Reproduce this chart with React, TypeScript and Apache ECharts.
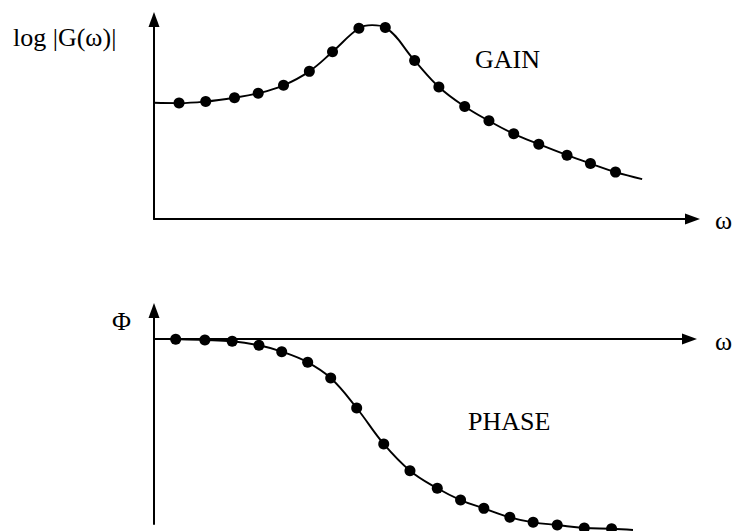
import { useEffect, useRef } from "react";
import * as echarts from "echarts";

// Gain panel (arbitrary units: ω 0–20, log|G| 0–10)
const gainOmega = [0.93, 1.92, 2.99, 3.87, 4.81, 5.77, 6.63, 7.61, 8.59, 9.68, 10.58, 11.54, 12.44, 13.36, 14.29, 15.34, 16.21, 17.14];
const gainValues = [5.81, 5.89, 6.08, 6.3, 6.7, 7.4, 8.38, 9.56, 9.6, 7.94, 6.62, 5.64, 4.92, 4.27, 3.75, 3.2, 2.78, 2.35];
// curve-only points without a marker: start, peak, end
const gainCurveOmega = [0, 8.1, 18.13];
const gainCurveValues = [5.83, 9.72, 2.0];

// Phase panel (ω 0–20, Φ in degrees-like units)
const phaseOmega = [0.81, 1.9, 2.92, 3.92, 4.77, 5.74, 6.6, 7.57, 8.58, 9.56, 10.58, 11.45, 12.32, 13.29, 14.16, 15.06, 16.07, 17.09];
const phaseValues = [-0.3, -1.1, -2.5, -6.8, -13.7, -25.2, -42.2, -74.6, -113.5, -142.4, -161.4, -174.1, -183.1, -192.8, -198.2, -201.1, -204.3, -205.1];
const phaseCurveOmega = [0, 17.89];
const phaseCurveValues = [0, -206.5];

const labels = {
  gainAxis: "log |G(ω)|",
  gain: "GAIN",
  phaseAxis: "Φ",
  phase: "PHASE",
  omega: "ω",
};

const FONT = "'Liberation Serif', 'Times New Roman', serif";

function pairs(xs: number[], ys: number[]) {
  return xs.map((x, i) => [x, ys[i]]);
}

function curve(xs: number[], ys: number[], ex: number[], ey: number[]) {
  return [...pairs(xs, ys), ...pairs(ex, ey)].sort((a, b) => a[0] - b[0]);
}

export default function App() {
  const ref = useRef<HTMLDivElement>(null);

  useEffect(() => {
    document.body.style.margin = "0";
    if (!ref.current) return;
    const chart = echarts.init(ref.current, undefined, { renderer: "svg" });

    const axisLine = (arrow: boolean) => ({
      show: true,
      onZero: true,
      symbol: arrow ? ["none", "triangle"] : ["none", "none"],
      symbolSize: [11, 15],
      lineStyle: { color: "#000", width: 2 },
    });
    const hidden = {
      axisTick: { show: false },
      axisLabel: { show: false },
      splitLine: { show: false },
    };

    const textStyle = { fill: "#000", fontFamily: FONT, fontSize: 26 };

    chart.setOption({
      animation: false,
      backgroundColor: "#fff",
      grid: [
        { left: 154, right: 41.5, top: 19.5, bottom: 312 },
        { left: 154, right: 44.5, top: 310.5, bottom: 7 },
      ],
      xAxis: [
        { type: "value", gridIndex: 0, min: 0, max: 20, axisLine: axisLine(true), ...hidden },
        { type: "value", gridIndex: 1, min: 0, max: 20, axisLine: axisLine(true), ...hidden },
      ],
      yAxis: [
        { type: "value", gridIndex: 0, min: 0, max: 10, axisLine: axisLine(true), ...hidden },
        { type: "value", gridIndex: 1, min: -200, max: 30.8, axisLine: axisLine(true), ...hidden },
      ],
      series: [
        {
          type: "line",
          xAxisIndex: 0,
          yAxisIndex: 0,
          data: curve(gainOmega, gainValues, gainCurveOmega, gainCurveValues),
          smooth: 0.4,
          showSymbol: false,
          clip: false,
          silent: true,
          lineStyle: { color: "#000", width: 1.9 },
        },
        {
          type: "scatter",
          xAxisIndex: 0,
          yAxisIndex: 0,
          data: pairs(gainOmega, gainValues),
          symbolSize: 11,
          clip: false,
          silent: true,
          itemStyle: { color: "#000", opacity: 1 },
        },
        {
          type: "line",
          xAxisIndex: 1,
          yAxisIndex: 1,
          data: curve(phaseOmega, phaseValues, phaseCurveOmega, phaseCurveValues),
          smooth: 0.4,
          showSymbol: false,
          clip: false,
          silent: true,
          lineStyle: { color: "#000", width: 1.9 },
        },
        {
          type: "scatter",
          xAxisIndex: 1,
          yAxisIndex: 1,
          data: pairs(phaseOmega, phaseValues),
          symbolSize: 11,
          clip: false,
          silent: true,
          itemStyle: { color: "#000", opacity: 1 },
        },
      ],
      graphic: [
        { type: "text", left: 13, top: 24, style: { ...textStyle, text: labels.gainAxis } },
        { type: "text", x: 475, y: 59, style: { ...textStyle, text: labels.gain, verticalAlign: "middle" } },
        { type: "text", x: 715, y: 220, style: { ...textStyle, text: labels.omega, verticalAlign: "middle" } },
        { type: "text", x: 112, y: 321, style: { ...textStyle, text: labels.phaseAxis, verticalAlign: "middle" } },
        { type: "text", x: 715, y: 341, style: { ...textStyle, text: labels.omega, verticalAlign: "middle" } },
        { type: "text", x: 468, y: 421, style: { ...textStyle, text: labels.phase, verticalAlign: "middle" } },
      ],
    });

    return () => chart.dispose();
  }, []);

  return <div ref={ref} style={{ width: 734, height: 531 }} />;
}
